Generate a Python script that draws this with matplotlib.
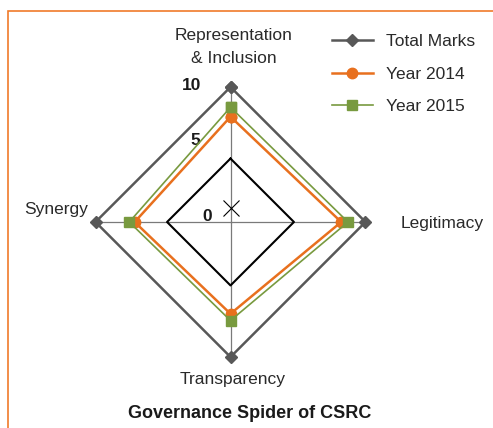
import numpy as np
import matplotlib
matplotlib.use("Agg")
import matplotlib.pyplot as plt
from matplotlib.patches import Rectangle
from matplotlib.transforms import ScaledTranslation

categories = ['Representation\n& Inclusion', 'Legitimacy', 'Transparency', 'Synergy']
total_marks = [10, 10, 10, 10]
year_2014 = [7.8, 8.2, 6.8, 7.1]
year_2015 = [8.5, 8.7, 7.3, 7.5]
grid_level = 4.7
r_labels = ['10', '5', '0']
r_values = [10, 5, 0]

plt.rcParams['font.family'] = ['Liberation Sans', 'DejaVu Sans']

GRAY = '#585858'
ORANGE = '#E8701E'
GREEN = '#789A3F'

fig = plt.figure(figsize=(4.93, 4.28), dpi=100)
ax = fig.add_axes([0.1937, 0.1659, 0.5477, 0.6308], projection='polar')
ax.set_theta_offset(np.pi / 2)
ax.set_theta_direction(-1)
ax.set_ylim(0, 10)
ax.grid(False)
ax.set_xticks([]); ax.set_yticks([])
ax.spines['polar'].set_visible(False)
ax.patch.set_visible(False)

angles = np.linspace(0, 2 * np.pi, len(categories), endpoint=False)
closed = np.append(angles, angles[0])

def close(v):
    return list(v) + [v[0]]

# spokes
for a in angles:
    ax.plot([a, a], [0, 10], color='#7a7a7a', lw=0.9, clip_on=False, zorder=1)

# inner grid diamond + centre cross
ax.plot(closed, [grid_level] * len(closed), color='black', lw=1.5, clip_on=False, zorder=2)
ax.plot([0], [0], marker='x', ms=11, mew=0.8, color='black', clip_on=False, zorder=2,
        transform=ax.transData + ScaledTranslation(0, 0.14, fig.dpi_scale_trans))

ax.plot(closed, close(total_marks), color=GRAY, lw=1.8, marker='D', ms=6.2,
        label='Total Marks', clip_on=False, zorder=3)
ax.plot(closed, close(year_2014), color=ORANGE, lw=1.8, marker='o', ms=7.5,
        label='Year 2014', clip_on=False, zorder=4)
ax.plot(closed, close(year_2015), color=GREEN, lw=1.2, marker='s', ms=6.5,
        label='Year 2015', clip_on=False, zorder=5)

# radial value labels
r_offsets = [(-39, 2), (-35, 14), (-23, 6)]
for lab, v, off in zip(r_labels, r_values, r_offsets):
    ax.annotate(lab, xy=(0, v), xytext=off, textcoords='offset pixels',
                ha='center', va='center', fontsize=12.5, fontweight='bold',
                color='#1a1a1a', annotation_clip=False)

# category labels
cat_pos = [((3, 40), 'center'), ((35, -1), 'left'), ((2, -23), 'center'), ((-7, 13), 'right')]
for lab, a, (off, ha) in zip(categories, angles, cat_pos):
    ax.annotate(lab, xy=(a, 10), xytext=off, textcoords='offset pixels',
                ha=ha, va='center', fontsize=12.5, color='#2a2a2a',
                linespacing=1.65, multialignment='center', annotation_clip=False)

fig.legend(loc='upper left', bbox_to_anchor=(332 / 493, 1 - 34 / 428),
           frameon=False, fontsize=12.5, handlelength=2.35, handletextpad=0.75,
           labelspacing=1.0, borderpad=0, borderaxespad=0, labelcolor='#2a2a2a')

fig.text(250 / 493, 1 - 413 / 428, 'Governance Spider of CSRC', ha='center', va='center',
         fontsize=13, fontweight='bold', color='#1a1a1a')

# orange frame (only top/left edges visible)
fig.add_artist(Rectangle((8 / 493, -0.2), 2, 1.2 - 11 / 428, transform=fig.transFigure,
                         fill=False, ec='#F07A2A', lw=1.2))

fig.savefig('out.png', dpi=100, facecolor='white')
